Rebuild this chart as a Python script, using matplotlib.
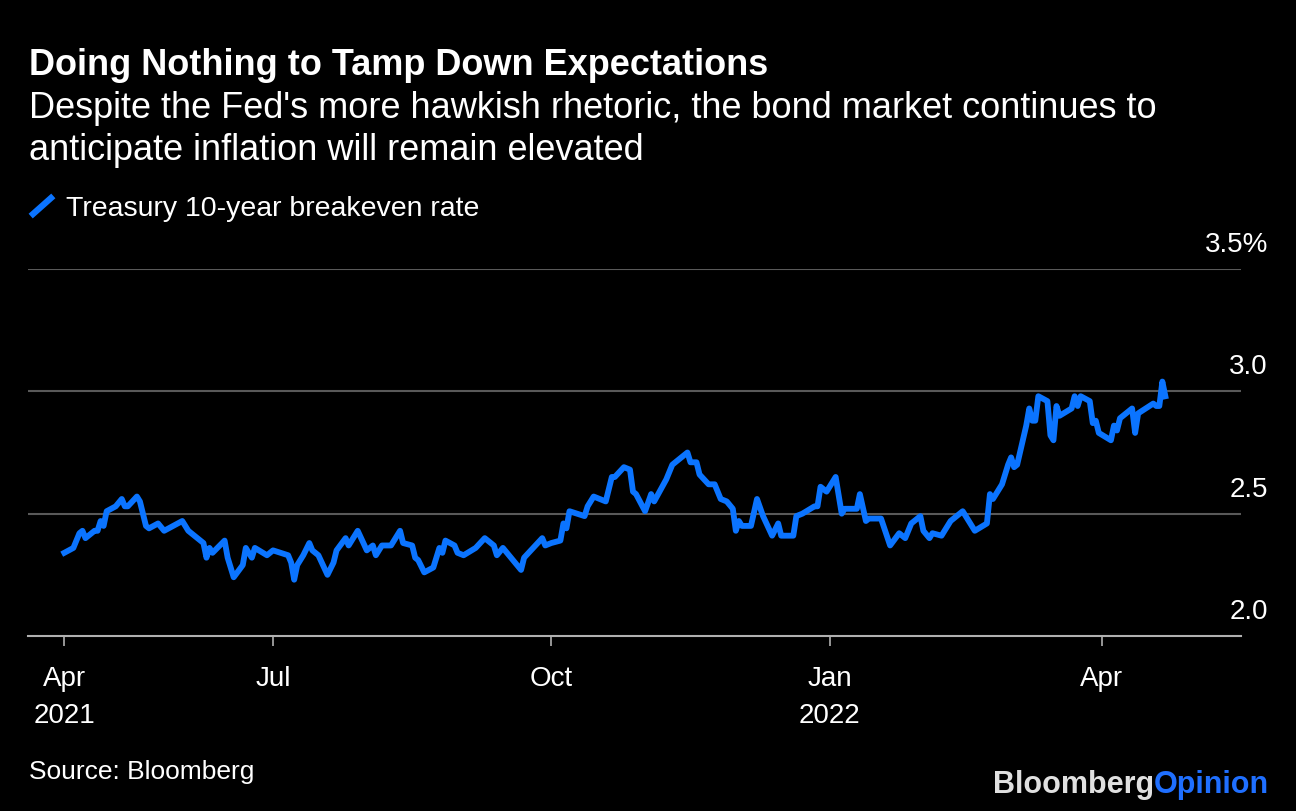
import matplotlib
matplotlib.use("Agg")
import matplotlib.pyplot as plt
import matplotlib.transforms as mtransforms
from matplotlib.lines import Line2D
import pandas as pd

plt.rcParams["font.family"] = ["Liberation Sans", "DejaVu Sans"]

# --- Datos: breakeven a 10 años del Tesoro ---
fechas = [
    "2021-04-23", "2021-04-26", "2021-04-28", "2021-04-29", "2021-04-30",
    "2021-05-03", "2021-05-04", "2021-05-05", "2021-05-06", "2021-05-07",
    "2021-05-10", "2021-05-12", "2021-05-13", "2021-05-14", "2021-05-17",
    "2021-05-18", "2021-05-20", "2021-05-21", "2021-05-24", "2021-05-26",
    "2021-06-01", "2021-06-03", "2021-06-06", "2021-06-08", "2021-06-09",
    "2021-06-10", "2021-06-11", "2021-06-15", "2021-06-16", "2021-06-18",
    "2021-06-21", "2021-06-22", "2021-06-24", "2021-06-25", "2021-06-29",
    "2021-07-01", "2021-07-06", "2021-07-07", "2021-07-08", "2021-07-09",
    "2021-07-11", "2021-07-13", "2021-07-14", "2021-07-16", "2021-07-19",
    "2021-07-21", "2021-07-22", "2021-07-25", "2021-07-26", "2021-07-29",
    "2021-08-01", "2021-08-03", "2021-08-04", "2021-08-06", "2021-08-09",
    "2021-08-12", "2021-08-13", "2021-08-16", "2021-08-17", "2021-08-18",
    "2021-08-20", "2021-08-23", "2021-08-25", "2021-08-26", "2021-08-27",
    "2021-08-30", "2021-08-31", "2021-09-02", "2021-09-06", "2021-09-09",
    "2021-09-12", "2021-09-13", "2021-09-15", "2021-09-21", "2021-09-22",
    "2021-09-28", "2021-09-29", "2021-10-01", "2021-10-04", "2021-10-05",
    "2021-10-06", "2021-10-07", "2021-10-12", "2021-10-13", "2021-10-15",
    "2021-10-19", "2021-10-21", "2021-10-22", "2021-10-25", "2021-10-27",
    "2021-10-28", "2021-10-29", "2021-11-01", "2021-11-03", "2021-11-04",
    "2021-11-08", "2021-11-10", "2021-11-15", "2021-11-16", "2021-11-18",
    "2021-11-19", "2021-11-22", "2021-11-24", "2021-11-26", "2021-11-28",
    "2021-11-30", "2021-12-01", "2021-12-02", "2021-12-03", "2021-12-06",
    "2021-12-08", "2021-12-10", "2021-12-13", "2021-12-15", "2021-12-16",
    "2021-12-20", "2021-12-21", "2021-12-23", "2021-12-27", "2021-12-28",
    "2021-12-29", "2021-12-31", "2022-01-03", "2022-01-05", "2022-01-06",
    "2022-01-10", "2022-01-11", "2022-01-13", "2022-01-14", "2022-01-18",
    "2022-01-21", "2022-01-24", "2022-01-26", "2022-01-28", "2022-01-31",
    "2022-02-01", "2022-02-03", "2022-02-04", "2022-02-07", "2022-02-10",
    "2022-02-14", "2022-02-18", "2022-02-22", "2022-02-23", "2022-02-24",
    "2022-02-27", "2022-03-01", "2022-03-02", "2022-03-03", "2022-03-04",
    "2022-03-07", "2022-03-08", "2022-03-09", "2022-03-10", "2022-03-11",
    "2022-03-14", "2022-03-15", "2022-03-16", "2022-03-17", "2022-03-18",
    "2022-03-22", "2022-03-23", "2022-03-24", "2022-03-25", "2022-03-28",
    "2022-03-29", "2022-03-30", "2022-03-31", "2022-04-04", "2022-04-05",
    "2022-04-06", "2022-04-07", "2022-04-11", "2022-04-12", "2022-04-13",
    "2022-04-18", "2022-04-19", "2022-04-20", "2022-04-21", "2022-04-22",
]
valores = [
    2.34, 2.36, 2.42, 2.43, 2.40,
    2.43, 2.43, 2.47, 2.45, 2.51,
    2.53, 2.56, 2.53, 2.53, 2.57,
    2.55, 2.45, 2.44, 2.46, 2.43,
    2.47, 2.43, 2.40, 2.38, 2.32,
    2.36, 2.34, 2.39, 2.32, 2.24,
    2.29, 2.36, 2.32, 2.36, 2.33,
    2.35, 2.33, 2.30, 2.23, 2.29,
    2.33, 2.38, 2.35, 2.33, 2.25,
    2.30, 2.35, 2.40, 2.37, 2.43,
    2.35, 2.37, 2.33, 2.37, 2.37,
    2.43, 2.38, 2.37, 2.32, 2.31,
    2.26, 2.28, 2.36, 2.34, 2.39,
    2.37, 2.34, 2.33, 2.36, 2.40,
    2.37, 2.33, 2.36, 2.27, 2.32,
    2.40, 2.37, 2.38, 2.39, 2.46,
    2.44, 2.51, 2.49, 2.53, 2.57,
    2.55, 2.65, 2.65, 2.69, 2.68,
    2.59, 2.58, 2.51, 2.58, 2.55,
    2.64, 2.70, 2.75, 2.71, 2.71,
    2.66, 2.62, 2.62, 2.56, 2.55,
    2.52, 2.43, 2.47, 2.45, 2.45,
    2.56, 2.49, 2.41, 2.46, 2.41,
    2.41, 2.49, 2.50, 2.53, 2.53,
    2.61, 2.59, 2.65, 2.50, 2.52,
    2.52, 2.58, 2.47, 2.48, 2.48,
    2.37, 2.42, 2.40, 2.46, 2.49,
    2.43, 2.40, 2.42, 2.41, 2.47,
    2.51, 2.43, 2.46, 2.58, 2.56,
    2.62, 2.70, 2.73, 2.69, 2.70,
    2.86, 2.93, 2.88, 2.88, 2.98,
    2.96, 2.82, 2.80, 2.94, 2.90,
    2.93, 2.98, 2.94, 2.98, 2.96,
    2.87, 2.88, 2.83, 2.80, 2.86,
    2.84, 2.89, 2.93, 2.83, 2.91,
    2.95, 2.94, 2.94, 3.04, 2.98,
]

ticks_x = ["2021-04-23", "2021-07-01", "2021-10-01", "2022-01-01", "2022-04-01"]
etiquetas_x = ["Apr\n2021", "Jul", "Oct", "Jan\n2022", "Apr"]
ticks_y = [2.0, 2.5, 3.0, 3.5]
etiquetas_y = ["2.0", "2.5", "3.0", "3.5%"]

AZUL = "#0b74ff"
GRIS_GRID = "#595959"
GRIS_EJE = "#b0b0b0"

# Tamaño en píxeles de la figura
W, H = 1296, 812
fig = plt.figure(figsize=(W / 100, H / 100), dpi=100, facecolor="black")

# Área del gráfico
ax = fig.add_axes([28 / W, 1 - 637 / H, (1241 - 28) / W, (637 - 270) / H])
ax.set_facecolor("black")
ax.plot(pd.to_datetime(fechas), valores, color=AZUL, lw=4.2,
        solid_joinstyle="round", zorder=3)
ax.set_xlim(pd.Timestamp("2021-04-11"), pd.Timestamp("2022-05-17"))
ax.set_ylim(ticks_y[0], ticks_y[-1])

# Líneas de referencia horizontales
for v in ticks_y[1:]:
    ax.axhline(v, color=GRIS_GRID, lw=1.5, zorder=1)

for lado in ["top", "right", "left"]:
    ax.spines[lado].set_visible(False)
ax.spines["bottom"].set_color(GRIS_EJE)
ax.spines["bottom"].set_linewidth(1.5)

ax.set_yticks([])
ax.set_xticks(pd.to_datetime(ticks_x))
ax.set_xticklabels(etiquetas_x, color="white", fontsize=20, linespacing=1.55)
ax.tick_params(axis="x", length=7, width=1.2, color=GRIS_EJE, pad=14)

# Etiquetas del eje Y a la derecha, sobre cada línea
trans = mtransforms.blended_transform_factory(ax.transAxes, ax.transData)
x_lab = (1268 - 28) / (1241 - 28)
for v, lab in zip(ticks_y, etiquetas_y):
    ax.annotate(lab, xy=(x_lab, v), xycoords=trans, xytext=(0, 13),
                textcoords="offset points", ha="right", va="baseline",
                color="white", fontsize=20, annotation_clip=False)

# Títulos
fig.text(29 / W, 1 - 75 / H, "Doing Nothing to Tamp Down Expectations",
         color="white", fontsize=26, fontweight="bold", va="baseline")
fig.text(29 / W, 1 - 118 / H,
         "Despite the Fed's more hawkish rhetoric, the bond market continues to",
         color="white", fontsize=26, va="baseline")
fig.text(29 / W, 1 - 160 / H, "anticipate inflation will remain elevated",
         color="white", fontsize=26, va="baseline")

# Leyenda
fig.add_artist(Line2D([33 / W, 51 / W], [1 - 215 / H, 1 - 199 / H],
                      transform=fig.transFigure, color=AZUL, lw=4.5))
fig.text(66 / W, 1 - 216 / H, "Treasury 10-year breakeven rate",
         color="white", fontsize=20.5, va="baseline")

# Fuente y logo
fig.text(29 / W, 1 - 779 / H, "Source: Bloomberg", color="white",
         fontsize=19, va="baseline")
t_op = fig.text(1269 / W, 1 - 793 / H, "Opinion", color="#1f6fff",
                fontsize=22, fontweight="bold", ha="right", va="baseline")
fig.canvas.draw()
bb = t_op.get_window_extent()
fig.text(bb.x0 / W, 1 - 793 / H, "Bloomberg", color="#e0e0e0",
         fontsize=22, fontweight="bold", ha="right", va="baseline")

fig.savefig("out.png", dpi=100, facecolor="black")
plt.close(fig)
